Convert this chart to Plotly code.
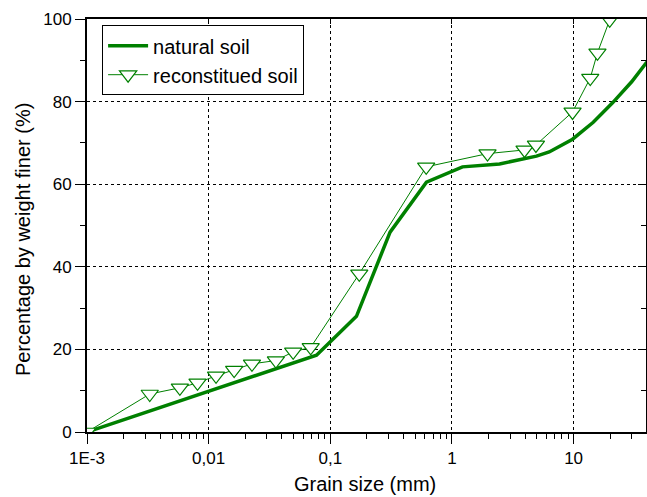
import plotly.graph_objects as go

nat_x = [0.001, 0.077, 0.164, 0.31, 0.617, 1.22, 2.46, 4.95, 6.3, 9.8, 14.5, 20.9, 30.0, 40.0]
nat_y = [0.0, 18.6, 28.0, 48.4, 60.5, 64.2, 64.9, 66.8, 67.8, 70.9, 75.0, 79.7, 84.8, 89.6]

rec_x = [0.001, 0.00328, 0.0058, 0.0081, 0.0115, 0.0162, 0.0227, 0.0357, 0.0495, 0.069,
         0.173, 0.614, 1.96, 3.95, 4.9, 9.8, 13.7, 15.7, 19.8]
rec_y = [0.0, 9.2, 10.7, 11.9, 13.6, 15.0, 16.5, 17.3, 19.4, 20.5,
         38.3, 64.2, 67.4, 68.3, 69.5, 77.5, 85.7, 91.8, 99.8]

x_tickvals = [0.001, 0.01, 0.1, 1, 10]
x_ticktext = ["1E-3", "0,01", "0,1", "1", "10"]
y_tickvals = [0, 20, 40, 60, 80, 100]

GREEN = "#008000"
FONT = "Liberation Sans, Arial, sans-serif"
xr = [-3, 1.595]
yr = [0, 100]

fig = go.Figure()
fig.add_trace(go.Scatter(x=nat_x, y=nat_y, mode="lines", name="natural soil",
                         line=dict(color=GREEN, width=3.5)))
fig.add_trace(go.Scatter(x=rec_x, y=rec_y, mode="lines+markers", name="reconstitued soil",
                         line=dict(color=GREEN, width=1),
                         marker=dict(symbol="triangle-down", size=15, color="white",
                                     line=dict(color=GREEN, width=1.2))))
fig.add_trace(go.Scatter(x=[0.01], y=[50], xaxis="x2", yaxis="y2", mode="markers",
                         marker=dict(opacity=0), showlegend=False, hoverinfo="skip"))

fig.update_layout(
    width=647, height=497,
    margin=dict(l=87, r=1, t=19, b=65),
    paper_bgcolor="white", plot_bgcolor="white",
    font=dict(family=FONT, size=17, color="black"),
    showlegend=True,
    legend=dict(x=0.027, y=0.985, xanchor="left", yanchor="top",
                bgcolor="white", bordercolor="black", borderwidth=1,
                font=dict(size=20, family=FONT), tracegroupgap=0, itemwidth=40),
    xaxis=dict(type="log", range=xr, tickvals=x_tickvals, ticktext=x_ticktext,
               ticks="outside", ticklen=10, tickwidth=1, tickcolor="black",
               showline=True, linecolor="black", linewidth=2,
               showgrid=True, gridcolor="black", gridwidth=1, griddash="dot",
               zeroline=False,
               minor=dict(ticks="outside", ticklen=5, tickcolor="black", dtick="D1", showgrid=False),
               tickfont=dict(size=17)),
    yaxis=dict(range=yr, tickvals=y_tickvals,
               ticks="outside", ticklen=10, tickwidth=1, tickcolor="black",
               showline=True, linecolor="black", linewidth=2,
               showgrid=True, gridcolor="black", gridwidth=1, griddash="dot",
               zeroline=False,
               minor=dict(ticks="outside", ticklen=5, tickcolor="black", dtick=10, showgrid=False),
               tickfont=dict(size=17)),
    xaxis2=dict(type="log", range=xr, overlaying="x", side="top", tickvals=x_tickvals,
                showticklabels=False, ticks="inside", ticklen=5, tickcolor="black",
                showline=True, linecolor="black", linewidth=2, showgrid=False, zeroline=False),
    yaxis2=dict(range=yr, overlaying="y", side="right", tickvals=y_tickvals,
                showticklabels=False, ticks="inside", ticklen=8, tickcolor="black",
                minor=dict(ticks="inside", ticklen=5, tickcolor="black", dtick=10),
                showline=True, linecolor="black", linewidth=2, showgrid=False, zeroline=False),
    annotations=[
        dict(text="Grain size (mm)", xref="paper", yref="paper", x=0.498, y=-0.126,
             xanchor="center", yanchor="middle", showarrow=False, font=dict(size=20)),
        dict(text="Percentage by weight finer (%)", xref="paper", yref="paper",
             x=-0.1145, y=0.467, xanchor="center", yanchor="middle", textangle=-90,
             showarrow=False, font=dict(size=20)),
    ],
)

fig.write_html("out.html")
